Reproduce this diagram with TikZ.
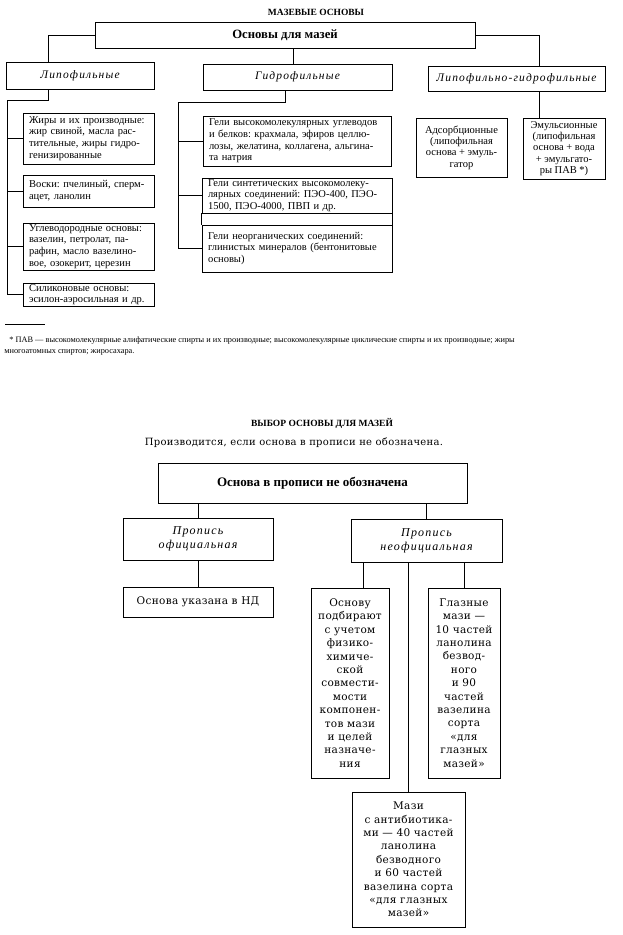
\documentclass[tikz,border=0pt]{standalone}
\usepackage{fontspec}
\setmainfont{Liberation Serif}
\newfontfamily\dvs[LetterSpace=3]{DejaVu Serif}
\newfontfamily\spaced[LetterSpace=10]{Liberation Serif}
\frenchspacing

\begin{document}
\begin{tikzpicture}[x=1pt, y=-1pt, line width=0.8pt,
boxed/.style={draw, line width=0.8pt, inner sep=0pt},
leftbox/.style={boxed, align=left, inner xsep=6pt, font=\fontsize{10.5}{11.7}\selectfont},
midbox/.style={boxed, align=center, inner ysep=1pt, font=\fontsize{10.5}{11.4}\selectfont},
groupbox/.style={boxed, font=\spaced\itshape\fontsize{11.5}{13}\selectfont},
topbox/.style={boxed, font=\bfseries\fontsize{12.7}{14}\selectfont},
heading/.style={font=\bfseries\fontsize{9.5}{11}\selectfont},
serifbox/.style={boxed, align=center, font=\dvs\fontsize{10.5}{13.4}\selectfont},
rxbox/.style={boxed, align=center, font=\spaced\itshape\fontsize{12}{14}\selectfont},
fnote/.style={align=left, inner sep=0pt, font=\fontsize{8.3}{11}\selectfont}]
\useasboundingbox (0,0) rectangle (623,935);

\node[heading] (t1) at (316,12) {МАЗЕВЫЕ ОСНОВЫ};
\node[topbox, minimum width=380pt, minimum height=26pt] (main) at (285,35) {Основы для мазей};
\node[groupbox, minimum width=148pt, minimum height=27pt] (lipo) at (80,75.5) {Липофильные};
\node[groupbox, minimum width=189pt, minimum height=26pt] (hydro) at (297.5,77) {Гидрофильные};
\node[groupbox, minimum width=177pt, minimum height=25pt] (lh) at (516.5,78.5) {Липофильно-гидрофильные};

\node[leftbox, text width=119pt, minimum height=51pt] (l1) at (88.5,138.5) {Жиры и их производные:\\жир свиной, масла рас-\\тительные, жиры гидро-\\генизированные};
\node[leftbox, text width=119pt, minimum height=32pt] (l2) at (88.5,191) {Воски: пчелиный, сперм-\\ацет, ланолин};
\node[leftbox, text width=119pt, minimum height=47pt] (l3) at (88.5,246.5) {Углеводородные основы:\\вазелин, петролат, па-\\рафин, масло вазелино-\\вое, озокерит, церезин};
\node[leftbox, text width=119pt, minimum height=23pt] (l4) at (88.5,294.5) {Силиконовые основы:\\эсилон-аэросильная и др.};

\node[leftbox, text width=176pt, minimum height=50pt] (h1) at (297,141) {Гели высокомолекулярных углеводов\\и белков: крахмала, эфиров целлю-\\лозы, желатина, коллагена, альгина-\\та натрия};
\node[leftbox, text width=178pt, minimum height=35pt] (h2) at (297,195.5) {Гели синтетических высокомолеку-\\лярных соединений: ПЭО-400, ПЭО-\\1500, ПЭО-4000, ПВП и др.};
\node[leftbox, text width=178pt, minimum height=47pt] (h3) at (297,248.5) {Гели неорганических соединений:\\глинистых минералов (бентонитовые\\основы)};

\node[midbox, minimum width=91pt, minimum height=59pt] (ads) at (461.5,147.5) {Адсорбционные\\(липофильная\\основа + эмуль-\\гатор};
\node[midbox, minimum width=82pt, minimum height=61pt] (em) at (564,148.5) {Эмульсионные\\(липофильная\\основа + вода\\+ эмульгато-\\ры ПАВ *)};

\draw (main.west) -| ([xshift=-32pt]lipo.north);
\draw ([xshift=8pt]main.south) -- ([xshift=8pt]main.south |- hydro.north);
\draw (main.east) -| ([xshift=22.5pt]lh.north);
\draw ([xshift=22.5pt]lh.south) -- ([xshift=22.5pt]lh.south |- em.north);

\coordinate (lspine) at (7,100);
\draw ([xshift=-32pt]lipo.south) |- (lspine) |- (l4.west);
\foreach \b in {l1,l2,l3} \draw (lspine |- \b.west) -- (\b.west);
\coordinate (hspine) at (178,102);
\draw ([xshift=-12.5pt]hydro.south) |- (hspine) |- (h3.west);
\foreach \b in {h1,h2} \draw (hspine |- \b.west) -- (\b.west);
\draw (h2.south west) -- (h3.north west) (h2.south east) -- (h3.north east);

\draw[line width=0.5pt] (5,324) -- (45,324);
\node[fnote, anchor=north west] (fn) at (4,336) {\hspace*{5pt}* ПАВ — высокомолекулярные алифатические спирты и их производные; высокомолекулярные циклические спирты и их производные; жиры\\многоатомных спиртов; жиросахара.};

\node[heading] (t2) at (322,423) {ВЫБОР ОСНОВЫ ДЛЯ МАЗЕЙ};
\node[font=\dvs\fontsize{10}{12}\selectfont] (sub) at (294,443) {Производится, если основа в прописи не обозначена.};
\node[topbox, font=\bfseries\fontsize{13}{15}\selectfont, minimum width=309pt, minimum height=40pt] (main2) at (312.5,483) {Основа в прописи не обозначена};
\node[rxbox, minimum width=150pt, minimum height=42pt] (po) at (198,539) {Пропись\\официальная};
\node[rxbox, minimum width=151pt, minimum height=43pt] (pn) at (426.5,540.5) {Пропись\\неофициальная};
\node[serifbox, minimum width=150pt, minimum height=30pt] (nd) at (198,602) {Основа указана в НД};
\node[serifbox, minimum width=78pt, minimum height=190pt] (osn) at (350,683) {Основу\\подбирают\\с учетом\\физико-\\химиче-\\ской\\совмести-\\мости\\компонен-\\тов мази\\и целей\\назначе-\\ния};
\node[serifbox, minimum width=72pt, minimum height=190pt] (glaz) at (464,683) {Глазные\\мази —\\10 частей\\ланолина\\безвод-\\ного\\и 90\\частей\\вазелина\\сорта\\«для\\глазных\\мазей»};
\node[serifbox, minimum width=113pt, minimum height=135pt] (anti) at (408.5,859.5) {Мази\\с антибиотика-\\ми — 40 частей\\ланолина\\безводного\\и 60 частей\\вазелина сорта\\«для глазных\\мазей»};

\draw (po.north |- main2.south) -- (po.north);
\draw (pn.north |- main2.south) -- (pn.north);
\draw (po) -- (nd);
\draw ([xshift=13pt]osn.north |- pn.south) -- ([xshift=13pt]osn.north);
\draw (glaz.north |- pn.south) -- (glaz.north);
\draw (anti.north |- pn.south) -- (anti.north);
\end{tikzpicture}
\end{document}
